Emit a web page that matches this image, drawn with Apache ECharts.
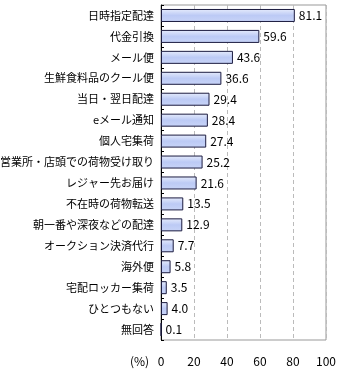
<!DOCTYPE html>
<html><head><meta charset="utf-8">
<script src="https://cdn.jsdelivr.net/npm/echarts@6/dist/echarts.min.js"></script>
<style>html,body{margin:0;padding:0;background:#fff}#c{width:340px;height:373px}</style>
</head><body><div id="c"></div>
<script>
const categories = ["日時指定配達","代金引換","メール便","生鮮食料品のクール便","当日・翌日配達","eメール通知","個人宅集荷","営業所・店頭での荷物受け取り","レジャー先お届け","不在時の荷物転送","朝一番や深夜などの配達","オークション決済代行","海外便","宅配ロッカー集荷","ひとつもない","無回答"];
const values = [81.1,59.6,43.6,36.6,29.4,28.4,27.4,25.2,21.6,13.5,12.9,7.7,5.8,3.5,4.0,0.1];
const xTicks = [0,20,40,60,80,100];
const unitLabel = "(%)";

const font = '"Noto Sans CJK JP", "Noto Sans", sans-serif';
const chart = echarts.init(document.getElementById('c'), null, {renderer:'canvas'});
chart.setOption({
  animation:false,
  grid:{left:161,right:14,top:5,bottom:33,show:true,borderColor:'#999',borderWidth:1,
    containLabel:false,outerBoundsMode:'none'},
  xAxis:{type:'value',min:xTicks[0],max:xTicks[xTicks.length-1],interval:20,
    axisLine:{show:false},axisTick:{show:false},
    axisLabel:{color:'#000',fontSize:12,fontFamily:font,margin:15},
    splitLine:{show:true,lineStyle:{color:'#bbb',type:[4,3]}}},
  yAxis:{type:'category',data:categories,inverse:true,
    axisLine:{show:true,lineStyle:{color:'#000',width:1}},
    axisTick:{show:true,inside:true,length:3,lineStyle:{color:'#000'}},
    axisLabel:{color:'#000',fontSize:11,fontFamily:font,margin:7},
    splitLine:{show:false}},
  series:[{type:'bar',data:values,barWidth:13,
    itemStyle:{borderColor:'#1c1c40',borderWidth:1,
      color:new echarts.graphic.LinearGradient(0,0,0,1,[
        {offset:0,color:'#e6ecfc'},{offset:0.5,color:'#bccaf5'},{offset:1,color:'#c8d4f7'}])},
    label:{show:true,position:'right',distance:4,color:'#000',fontSize:12,fontFamily:font,
      formatter:p=>p.value.toFixed(1)}}],
  graphic:[{type:'text',left:130,top:355,style:{text:unitLabel,fontSize:12,fontFamily:font,fill:'#000'}}]
});
</script></body></html>
